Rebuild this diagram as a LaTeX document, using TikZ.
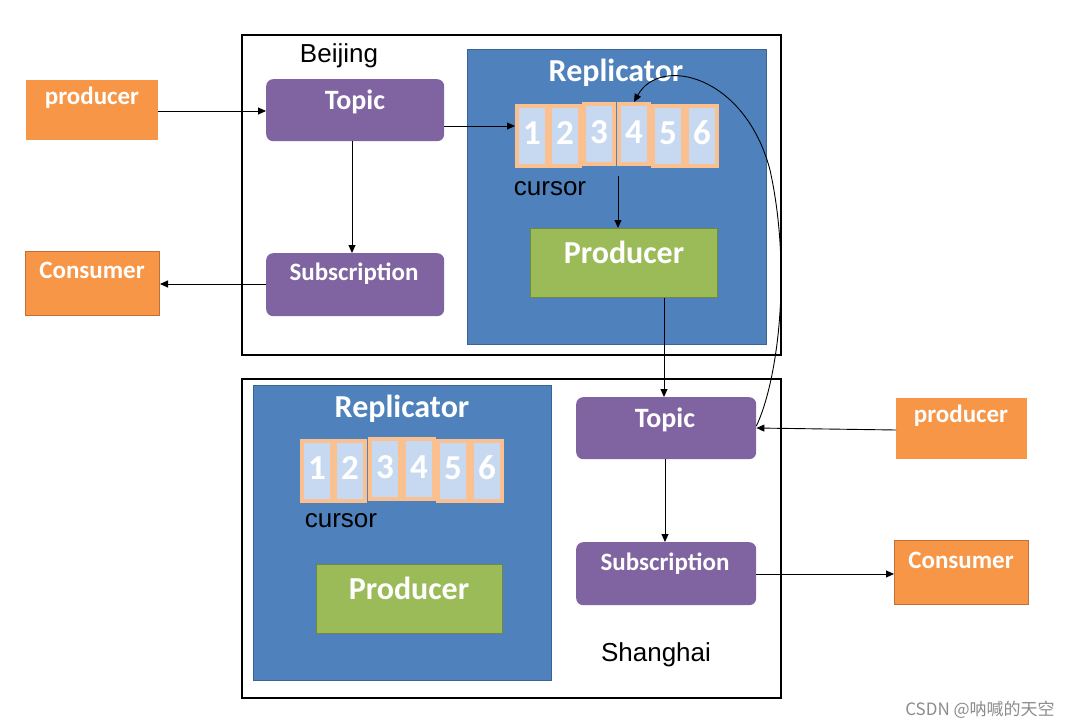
\documentclass[tikz,border=0pt]{standalone}
\usepackage{fontspec}
\setmainfont{Liberation Sans}
\newfontfamily\calfont{Carlito}
\newfontfamily\cjkfont{Noto Sans CJK SC}
\usetikzlibrary{arrows.meta}
\definecolor{cOrange}{HTML}{F79646}
\definecolor{cOrangeD}{HTML}{C0713A}
\definecolor{cPurple}{HTML}{8064A2}
\definecolor{cBlue}{HTML}{4F81BD}
\definecolor{cBlueD}{HTML}{3A6496}
\definecolor{cGreen}{HTML}{9BBB59}
\definecolor{cGreenD}{HTML}{71893F}
\definecolor{cPeach}{HTML}{FAC090}
\definecolor{cLight}{HTML}{C6D9F1}
\begin{document}
\begin{tikzpicture}[x=1pt,y=-1pt,
  region/.style={draw=black,line width=1.6pt,anchor=north west,inner sep=0},
  orangebox/.style={fill=cOrange,anchor=north west,inner sep=0},
  purplebox/.style={fill=cPurple,rounded corners=7pt,anchor=north west,inner sep=0},
  bluebox/.style={fill=cBlue,draw=cBlueD,line width=1pt,anchor=north west,inner sep=0},
  greenbox/.style={fill=cGreen,draw=cGreenD,line width=1.2pt,anchor=north west,inner sep=0},
  cell/.style={fill=cLight,draw=cPeach,line width=4pt,minimum width=30pt,minimum height=60pt,inner sep=0,
    font=\calfont\bfseries\fontsize{35}{35}\selectfont,text=white},
  wlabel/.style={font=\calfont\bfseries\fontsize{25}{25}\selectfont,text=white,inner sep=0},
  biglabel/.style={font=\calfont\bfseries\fontsize{32}{32}\selectfont,text=white,inner sep=0},
  plain/.style={font=\fontsize{26}{26}\selectfont,inner sep=0},
  conn/.style={draw=black,line width=0.9pt,-{Triangle[length=8pt,width=7pt]}}
]
\useasboundingbox[fill=white] (0,0) rectangle (1080,728);

% regions
\node[region,minimum width=539pt,minimum height=320pt] (bj) at (241,34) {};
\node[region,minimum width=539pt,minimum height=319pt] (sh) at (241,378) {};
\node[plain] (bjlabel) at (339,56) {Beijing};
\node[plain] (shlabel) at (656,655) {Shanghai};

% left side
\node[orangebox,minimum width=132pt,minimum height=60pt] (prodL) at (26,80) {};
\node[wlabel] (prodLt) at (92,98) {producer};
\node[orangebox,draw=cOrangeD,line width=1pt,minimum width=134pt,minimum height=64pt] (consL) at (25,251) {};
\node[wlabel] (consLt) at (92,270) {Consumer};

% Beijing purple
\node[purplebox,minimum width=178pt,minimum height=62pt] (topicB) at (266,79) {};
\node[wlabel,font=\calfont\bfseries\fontsize{28}{28}\selectfont] (topicBt) at (355,102) {Topic};
\node[purplebox,minimum width=178pt,minimum height=63pt] (subB) at (266,253) {};
\node[wlabel] (subBt) at (354,274) {Subscription};

% Beijing replicator
\node[bluebox,minimum width=299pt,minimum height=295pt] (repB) at (467,49) {};
\node[biglabel] (repBt) at (616,73) {Replicator};
\foreach \i/\x in {1/532,2/565,5/668,6/702}{
  \node[cell] (b\i) at (\x,136) {\raisebox{6pt}{\i}};
}
\foreach \i/\x in {3/599,4/634}{
  \node[cell] (b\i) at (\x,134) {\raisebox{4pt}{\i}};
}
\node[plain] (bcur) at (550,189) {cursor};
\coordinate (bcurS) at (618,176);
\node[greenbox,minimum width=187pt,minimum height=69pt] (prodB) at (530,228) {};
\node[biglabel] (prodBt) at (624,252) {Producer};

% Shanghai replicator
\node[bluebox,minimum width=298pt,minimum height=295pt] (repS) at (253,385) {};
\node[biglabel] (repSt) at (402,409) {Replicator};
\foreach \i/\x in {1/317,2/350,5/453,6/487}{
  \node[cell] (s\i) at (\x,471) {\raisebox{6pt}{\i}};
}
\foreach \i/\x in {3/385,4/419}{
  \node[cell] (s\i) at (\x,469) {\raisebox{4pt}{\i}};
}
\node[plain] (scur) at (341,521) {cursor};
\node[greenbox,minimum width=186pt,minimum height=69pt] (prodS) at (316,564) {};
\node[biglabel] (prodSt) at (409,588) {Producer};

% Shanghai purple
\node[purplebox,minimum width=180pt,minimum height=62pt] (topicS) at (576,397) {};
\node[wlabel,font=\calfont\bfseries\fontsize{28}{28}\selectfont] (topicSt) at (665,420) {Topic};
\node[purplebox,minimum width=180pt,minimum height=63pt] (subS) at (576,542) {};
\node[wlabel] (subSt) at (665,564) {Subscription};

% right side
\node[orangebox,minimum width=131pt,minimum height=61pt] (prodR) at (896,398) {};
\node[wlabel] (prodRt) at (961,416) {producer};
\node[orangebox,draw=cOrangeD,line width=1pt,minimum width=134pt,minimum height=64pt] (consR) at (894,540) {};
\node[wlabel] (consRt) at (961,560) {Consumer};

% connectors
\draw[conn] (prodL.east |- 0,111) -- (topicB.west |- 0,111);
\draw[conn] (topicB.east |- 0,126) -- (b1.west |- 0,126);
\draw[conn] (topicB.south -| 352,0) -- (subB.north -| 352,0);
\draw[conn] (subB.west |- 0,284) -- (consL.east |- 0,284);
\draw[conn] (bcurS) -- (prodB.north -| bcurS);
\draw[conn] (prodB.south -| 664,0) -- (topicS.north -| 664,0);
\draw[conn] (topicS.south -| 665,0) -- (subS.north -| 665,0);
\draw[conn] (subS.east |- 0,574) -- (consR.west |- 0,574);
\draw[conn] (prodR.west |- 0,430) -- (topicS.east |- 0,428);
\draw[conn] (topicS.east |- 0,426) .. controls (778,380) and (792,270) .. (770,170)
  .. controls (745,75) and (660,55) .. (b4.north);

% watermark
\node[font=\cjkfont\fontsize{17}{17}\selectfont,text=black!45,inner sep=0] (wm) at (980,710) {CSDN @呐喊的天空};
\end{tikzpicture}
\end{document}
